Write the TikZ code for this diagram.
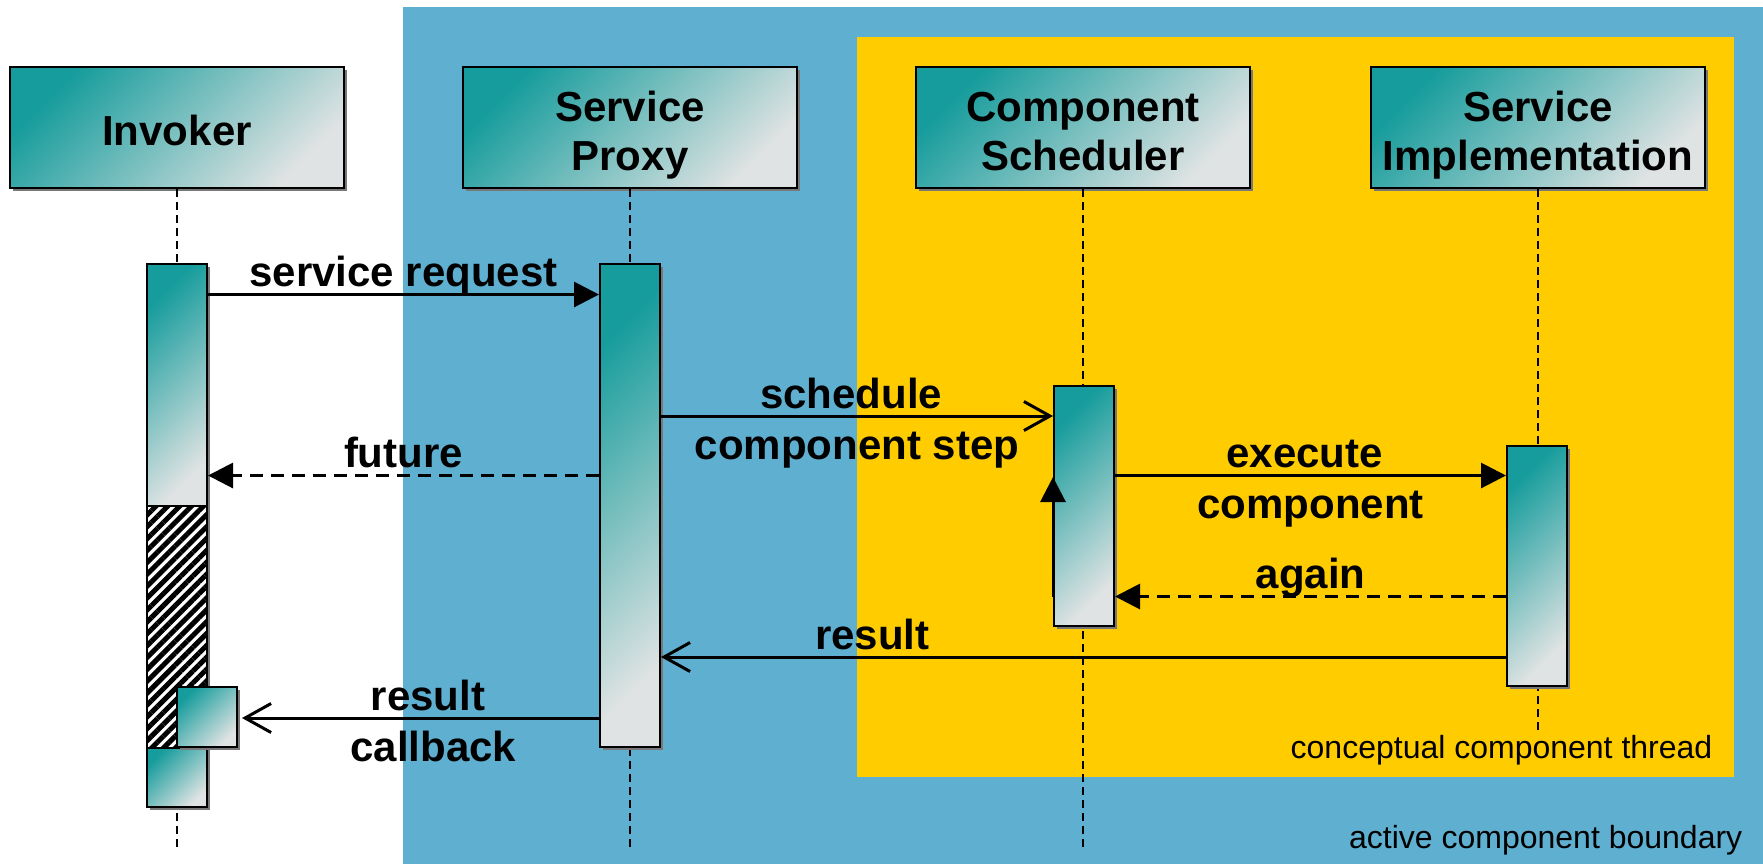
\documentclass[tikz,border=0pt]{standalone}
\usepackage{fontspec}
\setmainfont{Liberation Sans}
\usetikzlibrary{arrows.meta,patterns.meta,shadows}

\definecolor{boundaryblue}{RGB}{95,175,208}
\definecolor{threadyellow}{RGB}{255,204,0}
\definecolor{tealdark}{RGB}{22,156,156}
\definecolor{teallight}{RGB}{224,227,227}
\definecolor{shadowgray}{RGB}{120,120,120}

\newcommand{\seqbigfont}{\fontsize{21pt}{24.75pt}\selectfont\bfseries}
\newcommand{\seqsmallfont}{\fontsize{16pt}{19pt}\selectfont}
% struts that set the baselines inside the lifeline heads
\newcommand{\headtop}{\rule{0pt}{23pt}}
\newcommand{\headone}{\rule{0pt}{18.5pt}}

\tikzset{
  gradfill/.style={top color=tealdark, bottom color=teallight, shading angle=45},
  boxshadow/.style={drop shadow={shadow xshift=1.5pt, shadow yshift=-1.5pt,
      fill=shadowgray, opacity=1}},
  header/.style={rectangle, draw=black, line width=1pt, gradfill, boxshadow,
    minimum width=167pt, minimum height=60.5pt, inner sep=0pt,
    align=center, font=\seqbigfont},
  bar/.style={rectangle, draw=black, line width=1pt, gradfill, boxshadow,
    inner sep=0pt, minimum width=30pt},
  hatchbar/.style={rectangle, draw=black, line width=1pt, fill=white, boxshadow,
    inner sep=0pt, minimum width=30pt,
    postaction={pattern={Lines[angle=45,distance=4.2pt,line width=2.5pt]},
      pattern color=black}},
  lifeline/.style={line width=0.75pt, dash pattern=on 4pt off 2.5pt},
  msg/.style={line width=1.5pt, -{Triangle[length=12.5pt,width=12.5pt]}},
  reply/.style={msg, dash pattern=on 6.5pt off 4pt},
  async/.style={line width=1.5pt, -{Straight Barb[length=13pt,width=14.5pt]}},
  lblup/.style={font=\seqbigfont, anchor=base, yshift=3.8pt, inner sep=0pt},
  lbldown/.style={font=\seqbigfont, anchor=base, yshift=-21.7pt, inner sep=0pt},
  note/.style={font=\seqsmallfont, anchor=base east, inner sep=0pt},
}

\begin{document}
\begin{tikzpicture}[x=0.5pt, y=-0.5pt]
\useasboundingbox (0,0) rectangle (1763,864);

% boundary regions
\fill[boundaryblue] (402.7,7) rectangle (1763,864);
\fill[threadyellow] (857,37) rectangle (1734,777);
\node[note] (threadlbl) at (1712.7,758.3) {conceptual component thread};
\node[note] (boundarylbl) at (1742.7,848.3) {active component boundary};

% message levels
\coordinate (yReq) at (0,294.5);
\coordinate (ySched) at (0,416);
\coordinate (yFut) at (0,475.5);
\coordinate (ySelf) at (0,477);
\coordinate (yAgain) at (0,596.5);
\coordinate (yRes) at (0,657);
\coordinate (yCb) at (0,718);
\coordinate (yEnd) at (0,849);
\coordinate (yEndImpl) at (0,732);

% lifeline heads
\node[header] (inv) at (177,127.5) {\headone Invoker};
\node[header] (prx) at (630,127.5) {\headtop Service\\Proxy\vphantom{y}};
\node[header] (sch) at (1083,127.5) {\headtop Component\\Scheduler\vphantom{y}};
\node[header] (imp) at (1538,127.5) {\headtop Service\\Implementation\vphantom{y}};

% lifelines
\draw[lifeline] (inv.south) -- (inv.south |- yEnd);
\draw[lifeline] (prx.south) -- (prx.south |- yEnd);
\draw[lifeline] (sch.south) -- (sch.south |- yEnd);
\draw[lifeline] (imp.south) -- (imp.south |- yEndImpl);

% activations
\node[bar, minimum height=121pt] (invA) at (177,385) {};
\node[hatchbar, minimum height=121pt] (invH) at (177,627) {};
\node[bar, minimum height=29.5pt] (invB) at (177,777.5) {};
\node[bar, minimum height=30pt] (cb) at (207,717) {};
\node[bar, minimum height=241.5pt] (prxA) at (630,505.5) {};
\node[bar, minimum height=120pt] (schA) at (1084,506) {};
\node[bar, minimum height=120pt] (impA) at (1537,566) {};

% messages
\draw[msg] (invA.east |- yReq) -- node[lblup] (lReq) {service request} (prxA.west |- yReq);
\draw[async] (prxA.east |- ySched) --
  node[lblup, pos=0.485] (lSched1) {schedule}
  node[lbldown, pos=0.5] (lSched2) {component step} (schA.west |- ySched);
\draw[reply] (prxA.west |- yFut) -- node[lblup] (lFut) {future} (invA.east |- yFut);
\draw[msg] (schA.east |- yFut) --
  node[lblup, pos=0.485] (lExec1) {execute}
  node[lbldown, pos=0.5] (lExec2) {component} (impA.west |- yFut);
\draw[msg] (schA.west |- yAgain) -- (schA.west |- ySelf);
\draw[reply] (impA.west |- yAgain) -- node[lblup] (lAgain) {again} (schA.east |- yAgain);
\draw[async] (impA.west |- yRes) -- node[lblup, pos=0.75] (lRes) {result} (prxA.east |- yRes);
\draw[async, shorten >=2pt] (prxA.west |- yCb) --
  node[lblup, pos=0.474] (lCb1) {result}
  node[lbldown, pos=0.459] (lCb2) {callback} (cb.east |- yCb);
\end{tikzpicture}
\end{document}
